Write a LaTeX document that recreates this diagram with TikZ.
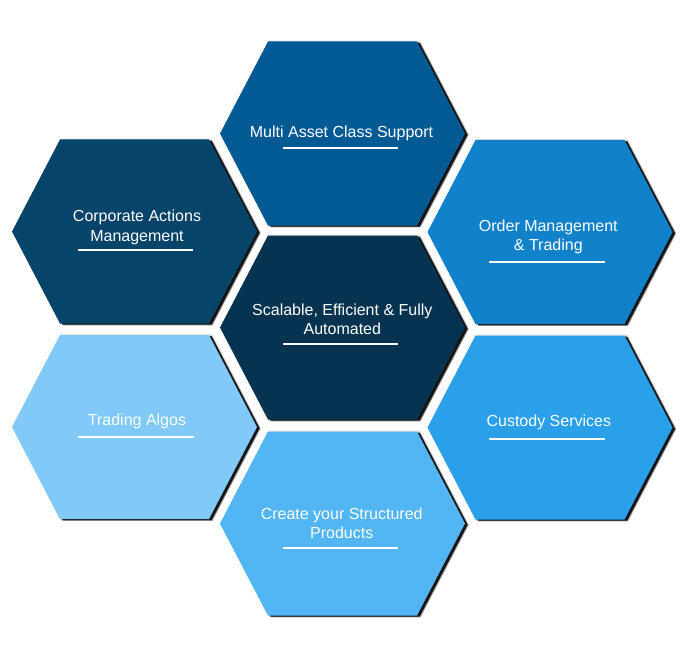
\documentclass[tikz,border=0pt]{standalone}
\usepackage{fontspec}
\setmainfont{Liberation Sans}
\definecolor{cMulti}{RGB}{2,90,148}
\definecolor{cCorp}{RGB}{6,68,105}
\definecolor{cCenter}{RGB}{6,52,80}
\definecolor{cOrder}{RGB}{17,130,202}
\definecolor{cCustody}{RGB}{41,160,233}
\definecolor{cCreate}{RGB}{82,181,244}
\definecolor{cTrading}{RGB}{128,201,249}
\newcommand\hexoutline{(-122.5,0) -- (-74.5,-92) -- (74.5,-92) -- (122.5,0) -- (74.5,92) -- (-74.5,92) -- cycle}
\newcommand\hexcellshape[3]{%
  \begin{scope}[shift={(#1,#2)}]
    \fill[black,opacity=0.12] [shift={(2,0.5)},scale=1.015] \hexoutline;
    \fill[black,opacity=0.35] [shift={(3.5,1.8)}] \hexoutline;
    \fill[black,opacity=0.85] [shift={(2.6,1.2)}] \hexoutline;
    \fill[#3] \hexoutline;
  \end{scope}}
\tikzset{
  lbl/.style={anchor=base,inner sep=0pt,text=white,font=\fontsize{16}{20}\selectfont},
  uline/.style={draw=white,line width=1.8pt}
}
\begin{document}
\begin{tikzpicture}[x=1pt,y=-1pt]
\useasboundingbox[fill=white] (0,0) rectangle (700,644);
% hexagons
\hexcellshape{342.5}{133.5}{cMulti}
\hexcellshape{134.5}{231.5}{cCorp}
\hexcellshape{550}{232}{cOrder}
\hexcellshape{342.5}{327.5}{cCenter}
\hexcellshape{134.5}{427}{cTrading}
\hexcellshape{550}{427.5}{cCustody}
\hexcellshape{342.5}{523.5}{cCreate}
% labels
\node[lbl] (multi) at (341.5,137.7) {Multi Asset Class Support};
\coordinate (multiL) at (282.7,148.3); \coordinate (multiR) at (398.3,148.3);
\draw[uline] (multiL) -- (multiR);

\node[lbl] (corpA) at (137,221.7) {Corporate Actions};
\node[lbl] (corpB) at (137,241.7) {Management};
\coordinate (corpL) at (78,250); \coordinate (corpR) at (193,250);
\draw[uline] (corpL) -- (corpR);

\node[lbl] (centA) at (342.3,315) {Scalable, Efficient \& Fully};
\node[lbl] (centB) at (342.3,334.3) {Automated};
\coordinate (centL) at (283,344.3); \coordinate (centR) at (398,344.3);
\draw[uline] (centL) -- (centR);

\node[lbl] (ordA) at (548.3,231.7) {Order Management};
\node[lbl] (ordB) at (548.3,250.9) {\& Trading};
\coordinate (ordL) at (489,261.7); \coordinate (ordR) at (605,261.7);
\draw[uline] (ordL) -- (ordR);

\node[lbl] (algo) at (137,425) {Trading Algos};
\coordinate (algoL) at (78,437.3); \coordinate (algoR) at (193.5,437.3);
\draw[uline] (algoL) -- (algoR);

\node[lbl] (cust) at (548.8,426.7) {Custody Services};
\coordinate (custL) at (489,439); \coordinate (custR) at (605,439);
\draw[uline] (custL) -- (custR);

\node[lbl] (creaA) at (341.7,519) {Create your Structured};
\node[lbl] (creaB) at (341.7,538.3) {Products};
\coordinate (creaL) at (282.7,547.7); \coordinate (creaR) at (398,547.7);
\draw[uline] (creaL) -- (creaR);
\end{tikzpicture}
\end{document}
